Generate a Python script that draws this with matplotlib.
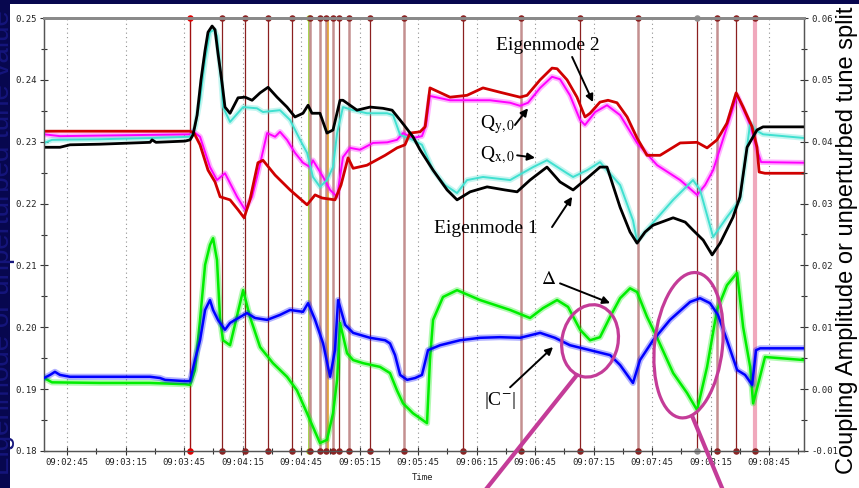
import matplotlib
matplotlib.use("Agg")
import matplotlib.pyplot as plt
import matplotlib.transforms as mtransforms
from matplotlib.patches import Rectangle, Ellipse
from matplotlib.ticker import FixedLocator, MultipleLocator, FuncFormatter
import numpy as np

plt.rcParams['mathtext.fontset'] = 'stix'

# ---- measured traces (time in seconds after 09:00:00) ----
# Eigenmode 1 (black) - left axis
t_em1 = [153.2, 161.4, 166.5, 181.9, 207.6, 208.6, 210.6, 225.5, 228.1, 229.6, 231.7, 233.7, 235.8,
         237.3, 239.4, 240.9, 242.4, 244.5, 246.0, 248.6, 252.7, 256.3, 259.9, 264.0, 268.1, 272.7,
         277.8, 281.9, 286.0, 288.6, 290.6, 294.7, 298.3, 301.4, 305.0, 306.5, 313.7, 320.4, 327.0,
         331.7, 335.8, 337.8, 342.4, 346.0, 352.7, 359.9, 365.0, 371.7, 380.4, 389.6, 395.8, 402.4,
         411.1, 417.8, 424.5, 431.7, 438.3, 441.9, 448.6, 453.7, 457.3, 461.4, 465.5, 475.8, 482.0,
         486.0, 491.2, 495.8, 499.9, 506.5, 510.1, 513.7, 518.8, 521.9, 542.9]
q_em1 = [0.2291, 0.2291, 0.2295, 0.2296, 0.2299, 0.2303, 0.2299, 0.2301, 0.2303, 0.2311, 0.2343, 0.2400,
         0.2448, 0.2477, 0.2487, 0.2481, 0.2443, 0.2395, 0.2356, 0.2346, 0.2371, 0.2372, 0.2367, 0.2379,
         0.2388, 0.2372, 0.2356, 0.2340, 0.2346, 0.2359, 0.2346, 0.2346, 0.2314, 0.2319, 0.2367, 0.2367,
         0.2351, 0.2356, 0.2354, 0.2351, 0.2335, 0.2327, 0.2308, 0.2287, 0.2254, 0.2222, 0.2206, 0.2219,
         0.2227, 0.2222, 0.2219, 0.2238, 0.2259, 0.2235, 0.2222, 0.2241, 0.2259, 0.2259, 0.2194, 0.2154,
         0.2136, 0.2154, 0.2165, 0.2177, 0.2170, 0.2157, 0.2141, 0.2117, 0.2136, 0.2178, 0.2211, 0.2291,
         0.2319, 0.2324, 0.2324]

# Eigenmode 2 (red) - left axis
t_em2 = [153.2, 225.5, 228.1, 230.1, 233.2, 237.3, 240.9, 243.5, 248.6, 252.7, 255.8, 258.8, 262.9,
         265.5, 271.7, 279.4, 288.1, 292.2, 295.8, 302.4, 305.5, 309.1, 311.7, 318.8, 328.1, 334.2,
         338.3, 340.9, 346.0, 348.6, 351.1, 361.4, 370.1, 378.3, 387.0, 397.3, 400.9, 407.6, 413.7,
         416.3, 421.4, 426.5, 430.6, 433.2, 438.3, 442.4, 447.0, 452.2, 457.3, 462.4, 469.1, 479.4,
         488.1, 493.2, 498.3, 503.4, 508.1, 511.7, 516.3, 518.8, 519.9, 522.9, 542.9]
q_em2 = [0.2317, 0.2317, 0.2317, 0.2314, 0.2295, 0.2254, 0.2235, 0.2211, 0.2206, 0.2190, 0.2177, 0.2206,
         0.2266, 0.2270, 0.2246, 0.2222, 0.2198, 0.2214, 0.2209, 0.2206, 0.2230, 0.2274, 0.2257, 0.2262,
         0.2278, 0.2290, 0.2295, 0.2314, 0.2316, 0.2324, 0.2387, 0.2372, 0.2375, 0.2387, 0.2380, 0.2372,
         0.2375, 0.2400, 0.2419, 0.2418, 0.2400, 0.2372, 0.2340, 0.2346, 0.2364, 0.2367, 0.2363, 0.2340,
         0.2306, 0.2278, 0.2278, 0.2298, 0.2299, 0.2290, 0.2303, 0.2330, 0.2379, 0.2356, 0.2324, 0.2291,
         0.2251, 0.2249, 0.2249]

# Qy,0 (magenta) - left axis
t_qy = [153.2, 161.4, 228.1, 229.6, 233.2, 238.3, 241.9, 246.0, 248.6, 252.2, 256.3, 259.9, 262.9,
        267.6, 271.7, 274.2, 277.8, 281.9, 286.0, 289.6, 291.1, 296.3, 299.9, 303.5, 306.5, 310.1,
        315.3, 321.9, 329.2, 334.2, 337.3, 342.4, 347.0, 349.1, 351.1, 361.4, 371.7, 381.9, 392.2,
        397.3, 401.4, 407.6, 413.7, 417.8, 422.9, 428.1, 430.6, 435.8, 441.9, 448.6, 457.3, 467.6,
        479.4, 488.1, 492.2, 496.3, 503.4, 508.6, 515.3, 518.8, 520.9, 542.9]
q_qy = [0.2312, 0.2309, 0.2312, 0.2317, 0.2308, 0.2259, 0.2238, 0.2249, 0.2233, 0.2211, 0.2190, 0.2211,
        0.2249, 0.2314, 0.2308, 0.2316, 0.2303, 0.2282, 0.2266, 0.2259, 0.2270, 0.2243, 0.2222, 0.2211,
        0.2275, 0.2290, 0.2287, 0.2298, 0.2299, 0.2303, 0.2314, 0.2306, 0.2309, 0.2327, 0.2374, 0.2367,
        0.2367, 0.2367, 0.2363, 0.2358, 0.2363, 0.2387, 0.2405, 0.2401, 0.2375, 0.2335, 0.2327, 0.2348,
        0.2359, 0.2343, 0.2298, 0.2262, 0.2238, 0.2214, 0.2230, 0.2254, 0.2324, 0.2375, 0.2327, 0.2287,
        0.2267, 0.2266]

# Qx,0 (turquoise) - left axis
t_qx = [153.2, 157.3, 181.9, 207.6, 228.1, 230.6, 233.2, 235.8, 238.3, 240.4, 241.9, 243.5, 245.0,
        248.6, 255.3, 262.4, 265.5, 274.2, 279.4, 284.5, 288.1, 291.1, 294.7, 298.3, 301.4, 303.5,
        306.5, 311.7, 318.8, 329.1, 332.2, 335.8, 342.4, 347.0, 352.7, 358.8, 365.0, 370.1, 378.3,
        392.2, 404.0, 411.1, 421.4, 424.5, 431.7, 438.3, 448.6, 455.2, 457.3, 465.5, 475.8, 486.0,
        489.6, 496.3, 503.4, 510.1, 515.3, 517.8, 521.9, 542.9]
q_qx = [0.2298, 0.2303, 0.2304, 0.2306, 0.2308, 0.2322, 0.2367, 0.2432, 0.2477, 0.2481, 0.2471, 0.2421,
        0.2356, 0.2332, 0.2356, 0.2354, 0.2348, 0.2351, 0.2335, 0.2303, 0.2282, 0.2243, 0.2227, 0.2238,
        0.2259, 0.2314, 0.2356, 0.2351, 0.2346, 0.2346, 0.2343, 0.2311, 0.2303, 0.2295, 0.2254, 0.2230,
        0.2217, 0.2238, 0.2243, 0.2238, 0.2259, 0.2270, 0.2249, 0.2243, 0.2254, 0.2267, 0.2230, 0.2173,
        0.2139, 0.2169, 0.2206, 0.2238, 0.2222, 0.2146, 0.2178, 0.2206, 0.2330, 0.2319, 0.2312, 0.2306]

# unperturbed tune split Delta (green) - right axis
t_delta = [153.2, 157.3, 181.9, 207.6, 225.5, 228.1, 230.6, 233.2, 235.8, 238.3, 239.9, 241.9, 243.5,
           245.0, 248.6, 251.7, 255.3, 258.8, 264.0, 270.6, 277.8, 282.9, 288.1, 291.1, 294.7, 298.3,
           301.4, 303.5, 305.0, 308.6, 311.7, 316.8, 325.5, 330.6, 334.2, 337.3, 342.4, 349.6, 351.1,
           352.7, 357.8, 365.0, 376.8, 392.2, 402.4, 409.1, 416.3, 421.9, 428.1, 433.2, 438.3, 443.5,
           448.6, 453.7, 457.3, 462.4, 467.6, 475.8, 482.9, 488.1, 493.2, 498.3, 503.4, 508.6, 511.7,
           515.3, 516.8, 519.3, 522.9, 542.9]
delta = [0.0018, 0.0011, 0.0010, 0.0010, 0.0008, 0.0007, 0.0031, 0.0112, 0.0201, 0.0233, 0.0244, 0.0209,
         0.0112, 0.0079, 0.0071, 0.0112, 0.0160, 0.0117, 0.0068, 0.0042, 0.0020, -0.0002, -0.0039,
         -0.0061, -0.0087, -0.0082, -0.0039, 0.0015, 0.0107, 0.0058, 0.0047, 0.0042, 0.0036, 0.0026,
         -0.0002, -0.0023, -0.0039, -0.0055, 0.0047, 0.0112, 0.0149, 0.0160, 0.0144, 0.0128, 0.0115,
         0.0131, 0.0144, 0.0133, 0.0096, 0.0079, 0.0084, 0.0117, 0.0147, 0.0163, 0.0157, 0.0117, 0.0083,
         0.0026, -0.0006, -0.0034, 0.0036, 0.0128, 0.0168, 0.0188, 0.0100, 0.0036, -0.0023, 0.0007,
         0.0052, 0.0047]

# coupling amplitude |C-| (blue) - right axis
t_cminus = [153.2, 156.3, 158.8, 161.4, 166.5, 207.6, 212.7, 215.3, 225.5, 228.1, 230.6, 233.2, 235.8,
            238.3, 239.9, 242.4, 246.0, 248.6, 251.2, 257.3, 261.4, 267.6, 274.2, 279.4, 286.0, 288.6,
            292.2, 296.3, 299.9, 302.4, 304.0, 307.6, 311.7, 320.4, 328.1, 330.6, 333.2, 335.8, 339.4,
            343.5, 347.0, 350.1, 356.3, 366.5, 376.8, 387.0, 397.3, 407.6, 415.2, 422.9, 433.2, 443.5,
            448.6, 455.2, 458.8, 465.5, 474.2, 484.5, 489.6, 494.7, 498.8, 503.4, 508.6, 512.7, 516.3,
            518.3, 520.4, 542.9]
cminus = [0.0018, 0.0023, 0.0028, 0.0023, 0.0020, 0.0020, 0.0018, 0.0015, 0.0013, 0.0013, 0.0047, 0.0079,
          0.0128, 0.0144, 0.0128, 0.0112, 0.0096, 0.0107, 0.0112, 0.0123, 0.0115, 0.0112, 0.0120, 0.0128,
          0.0125, 0.0139, 0.0112, 0.0074, 0.0020, 0.0063, 0.0144, 0.0104, 0.0091, 0.0083, 0.0079, 0.0074,
          0.0055, 0.0023, 0.0015, 0.0018, 0.0023, 0.0063, 0.0071, 0.0079, 0.0083, 0.0084, 0.0083, 0.0091,
          0.0083, 0.0071, 0.0063, 0.0055, 0.0039, 0.0010, 0.0047, 0.0079, 0.0112, 0.0141, 0.0147, 0.0139,
          0.0120, 0.0079, 0.0031, 0.0023, 0.0007, 0.0063, 0.0066, 0.0066]

# logged events (vertical markers)
event_t = [228.1, 244.5, 256.3, 268.1, 280.4, 289.1, 289.7, 294.7, 297.8, 298.8, 301.4, 304.5,
           309.6, 320.4, 337.8, 368.1, 397.8, 428.1, 457.8, 488.1, 498.3, 508.1, 517.8]
event_kind = ['first', 'dark', 'dark', 'dark', 'dark', 'olive', 'pink', 'pink', 'pink', 'orange', 'pink',
              'dark', 'pink', 'dark', 'pink', 'dark', 'pink', 'dark', 'pink', 'grey', 'pink', 'dark', 'light']

kind_line = {'first': ('#a01010', 1.0), 'dark': ('#8b2020', 0.9), 'pink': ('#c49090', 1.8),
             'olive': ('#9acd32', 1.2), 'orange': ('#e0a030', 1.2), 'grey': ('#8b2020', 0.9),
             'light': ('#f0a8bc', 3.0)}
kind_dot = {'first': '#e00000', 'dark': '#8b2323', 'pink': '#8b2323', 'olive': '#9acd32',
            'orange': None, 'grey': '#909090', 'light': '#8b2323'}

t_min, t_max = 153.2, 542.9


def hms(s, pos=None):
    s = int(round(s))
    return "09:%02d:%02d" % (s // 60, s % 60)


fig = plt.figure(figsize=(8.59, 4.88), dpi=100, facecolor='#07074f')
fig.add_artist(Rectangle((10 / 859, 0), 1, 484 / 488, transform=fig.transFigure,
                         facecolor='white', edgecolor='none', zorder=-5))

ax = fig.add_axes([44 / 859, 37 / 488, 760 / 859, 433 / 488])
ax.set_facecolor('none')
ax2 = ax.twinx()

# event markers
for t, k in zip(event_t, event_kind):
    c, lw = kind_line[k]
    ax.axvline(t, color=c, lw=lw, zorder=1)
    if kind_dot[k]:
        ax.scatter([t, t], [0, 1], s=22, color=kind_dot[k], transform=ax.get_xaxis_transform(),
                   clip_on=False, zorder=6, linewidths=0)


def trace(a, t, v, color, lw, fuzz, z):
    # soft wider copy underneath stands in for the measurement noise
    if fuzz:
        a.plot(t, v, color=color, lw=lw + fuzz, alpha=0.3, zorder=z, solid_joinstyle='round')
    a.plot(t, v, color=color, lw=lw, zorder=z + 0.1)


trace(ax, t_qy, q_qy, '#ff00ff', 1.4, 2.6, 3)
trace(ax, t_qx, q_qx, '#40e0d0', 1.4, 2.6, 3)
trace(ax, t_em2, q_em2, '#d00000', 2.0, 0, 4)
trace(ax, t_em1, q_em1, 'black', 2.0, 0, 4)

trace(ax2, t_delta, delta, '#00ee00', 1.8, 2.6, 3)
trace(ax2, t_cminus, cminus, '#0000ff', 1.8, 2.6, 4)

ax.set_xlim(t_min, t_max)
ax.set_ylim(0.18, 0.25)
ax2.set_ylim(-0.01, 0.06)

ax.xaxis.set_major_locator(FixedLocator(np.arange(165, 541, 30)))
ax.xaxis.set_minor_locator(FixedLocator(np.arange(150, 545, 15)))
ax.xaxis.set_major_formatter(FuncFormatter(hms))
ax.yaxis.set_major_locator(MultipleLocator(0.01))
ax.yaxis.set_minor_locator(MultipleLocator(0.005))
ax.yaxis.set_major_formatter(FuncFormatter(lambda v, p: "%.2f" % v))
ax2.yaxis.set_major_locator(MultipleLocator(0.01))
ax2.yaxis.set_minor_locator(MultipleLocator(0.005))
ax2.yaxis.set_major_formatter(FuncFormatter(lambda v, p: "%.2f" % v))

for a in (ax, ax2):
    a.tick_params(which='major', direction='inout', length=6, width=0.8, color='#333333',
                  labelsize=6.5, labelcolor='#222222', pad=2)
    a.tick_params(which='minor', direction='inout', length=4, width=0.8, color='#333333')
    for lab in a.get_xticklabels() + a.get_yticklabels():
        lab.set_family('DejaVu Sans Mono')
    for sp in a.spines.values():
        sp.set_color('#555555')
        sp.set_linewidth(0.9)
    a.spines['top'].set_color('#8a8a8a')
    a.spines['top'].set_linewidth(2.0)

ax.grid(axis='x', which='major', linestyle=(0, (1, 3)), color='#909090', lw=0.8)

# labels
fig.text(423 / 859, 1 - 478 / 488, 'Time', ha='center', va='center', fontsize=6.5,
         family='DejaVu Sans Mono', color='#222222')
fig.text(853 / 859, 0.507, 'Coupling Amplitude or unperturbed tune split', rotation=90,
         rotation_mode='anchor', ha='center', va='baseline', fontsize=17,
         family='Liberation Sans', color='black')
fig.text(9 / 859, 0.502, 'Eigenmode or unperturbed tune value', rotation=90,
         rotation_mode='anchor', ha='center', va='baseline', fontsize=20,
         family='Liberation Sans', color='#15157c')

# annotations, drawn on the right-hand axes so they sit above every trace
dat = ax.transData
serif = dict(family='Liberation Serif', color='black', ha='center', va='center', zorder=10,
             transform=dat)
ax2.text(411.7, 0.2456, 'Eigenmode 2', fontsize=14, **serif)
ax2.text(379.9, 0.2160, 'Eigenmode 1', fontsize=14, **serif)
ax2.text(386.0, 0.2327, r'Q$_{\mathrm{y,0}}$', fontsize=14, **serif)
ax2.text(386.0, 0.2278, r'Q$_{\mathrm{x,0}}$', fontsize=14, **serif)
ax2.text(411.7, 0.2078, r'$\Delta$', fontsize=14, **serif)
ax2.text(387.0, 0.1882, r'|C$^{-}$|', fontsize=14, **serif)

arrow = dict(arrowstyle='-|>', color='black', lw=1.4, mutation_scale=11, shrinkA=0, shrinkB=0)
arrows = [((424.0, 0.2437), (434.7, 0.2364)),
          ((394.7, 0.2327), (401.4, 0.2354)),
          ((395.8, 0.2278), (405.0, 0.2274)),
          ((413.7, 0.2162), (424.0, 0.2211)),
          ((417.8, 0.2071), (443.5, 0.2039)),
          ((392.2, 0.1903), (414.2, 0.1968))]
for tail, head in arrows:
    ax2.annotate('', xy=head, xytext=tail, xycoords=dat, textcoords=dat, arrowprops=arrow, zorder=10)

# highlight ellipses with pointer lines
mag = '#c43c98'
for (cx, cy), w, h, ang in [((433.2, 0.1978), 0.56, 0.73, -12), ((483.7, 0.1971), 0.68, 1.46, -6)]:
    tr = fig.dpi_scale_trans + mtransforms.ScaledTranslation(cx, cy, dat)
    ax2.add_artist(Ellipse((0, 0), w, h, angle=ang, transform=tr, fill=False, ec=mag, lw=2.3,
                           zorder=11))
ax2.plot([426.0, 375.5], [0.1921, 0.1721], color=mag, lw=3, clip_on=False, zorder=11, transform=dat)
ax2.plot([486.0, 503.4], [0.1853, 0.1721], color=mag, lw=3, clip_on=False, zorder=11, transform=dat)

ax.set_xlim(t_min, t_max)
ax.set_ylim(0.18, 0.25)
ax2.set_ylim(-0.01, 0.06)

fig.savefig('out.png', dpi=100, facecolor=fig.get_facecolor())
